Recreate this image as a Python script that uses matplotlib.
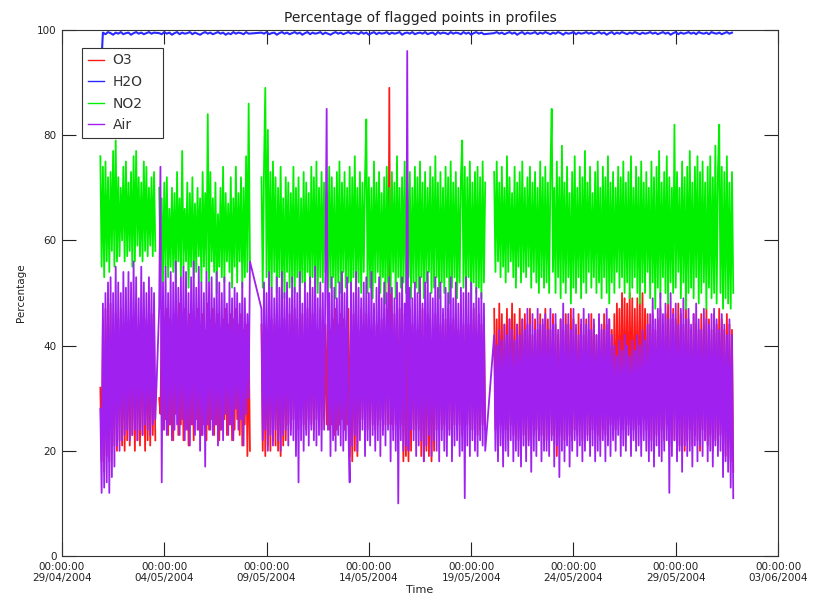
import numpy as np
import pandas as pd
import matplotlib
matplotlib.use('Agg')
import matplotlib.pyplot as plt
import matplotlib.dates as mdates

# profile blocks: start time, 1.5-hourly profiles per block (H2O summary every 3 h)
seg_start = ['2004-04-30 21:00', '2004-05-03 18:00', '2004-05-08 18:00', '2004-05-20 03:00']
seg_len = [44, 72, 176, 188]
h2o_len = [22, 36, 88, 94]

# percentage of flagged points per profile, blocks concatenated
o3 = [
    32, 18, 45, 16, 47, 19, 46, 18, 48, 22, 44, 21, 46, 20, 45, 22, 47, 21, 44, 20,
    46, 22, 43, 21, 47, 23, 45, 20, 48, 22, 44, 21, 46, 23, 47, 20, 45, 22, 43, 21,
    46, 23, 44, 22,
    30, 27, 46, 24, 44, 26, 47, 23, 45, 25, 43, 22, 46, 27, 44, 23, 48, 25, 45, 22,
    47, 24, 43, 21, 46, 25, 44, 22, 45, 26, 47, 24, 44, 23, 46, 25, 43, 22, 48, 24,
    45, 26, 47, 23, 44, 25, 46, 22, 43, 24, 45, 26, 47, 23, 44, 25, 46, 22, 45, 24,
    47, 26, 44, 23, 46, 21, 43, 25, 44, 19, 42, 20,
    44, 20, 46, 19, 43, 21, 47, 20, 45, 22, 44, 21, 46, 20, 43, 19, 47, 21, 45, 22,
    44, 25, 46, 24, 43, 26, 47, 25, 45, 24, 44, 26, 46, 25, 43, 24, 47, 26, 44, 25,
    46, 24, 45, 26, 43, 25, 47, 24, 45, 26, 44, 25, 46, 24, 43, 25, 45, 23, 47, 24,
    44, 25, 46, 26, 45, 24, 43, 25, 47, 19, 44, 18, 46, 20, 45, 19, 43, 24, 47, 26,
    44, 25, 46, 24, 45, 26, 43, 25, 47, 24, 44, 25, 46, 26, 45, 24, 43, 25, 47, 26,
    89, 25, 44, 24, 46, 25, 45, 24, 47, 25, 44, 18, 46, 19, 45, 18, 47, 20, 44, 24,
    46, 25, 43, 24, 45, 19, 47, 18, 44, 20, 46, 19, 45, 18, 43, 20, 46, 24, 45, 25,
    44, 24, 46, 25, 45, 23, 47, 24, 44, 26, 45, 25, 46, 24, 43, 25, 47, 23, 44, 24,
    46, 25, 44, 26, 45, 24, 47, 25, 43, 23, 46, 24, 44, 25, 45, 24,
    47, 24, 45, 22, 48, 25, 46, 23, 44, 24, 47, 22, 45, 25, 48, 23, 46, 24, 44, 22,
    47, 25, 45, 23, 46, 24, 44, 22, 47, 25, 42, 23, 45, 24, 43, 22, 46, 23, 44, 24,
    47, 22, 45, 25, 43, 23, 46, 24, 44, 19, 42, 23, 45, 24, 43, 22, 46, 25, 44, 23,
    47, 22, 45, 24, 43, 23, 46, 25, 44, 22, 42, 24, 45, 23, 43, 22, 46, 24, 44, 25,
    42, 23, 45, 22, 43, 24, 46, 23, 44, 22, 45, 25, 43, 23, 46, 24, 48, 26, 47, 25,
    50, 24, 49, 27, 48, 25, 50, 26, 49, 24, 47, 27, 49, 25, 48, 23, 50, 26, 47, 24,
    46, 26, 44, 22, 46, 24, 43, 23, 45, 21, 47, 24, 44, 22, 46, 25, 48, 21, 45, 23,
    47, 22, 45, 24, 48, 21, 46, 23, 44, 20, 47, 22, 45, 24, 43, 21, 46, 23, 44, 22,
    43, 20, 46, 24, 44, 22, 47, 21, 45, 23, 43, 20, 46, 22, 44, 21, 47, 23, 45, 20,
    43, 19, 46, 21, 44, 18, 43, 16,
]
no2 = [
    76, 55, 74, 53, 75, 56, 72, 54, 73, 58, 77, 55, 79, 56, 72, 57, 70, 60, 74, 56,
    75, 57, 71, 58, 73, 55, 76, 56, 77, 59, 72, 57, 71, 56, 75, 58, 74, 57, 70, 59,
    72, 57, 73, 58,
    70, 54, 68, 52, 71, 55, 72, 53, 66, 55, 70, 54, 69, 52, 73, 56, 68, 53, 77, 55,
    66, 56, 71, 51, 69, 55, 72, 53, 67, 54, 70, 57, 68, 52, 73, 55, 69, 54, 84, 52,
    73, 56, 68, 54, 71, 50, 65, 55, 70, 53, 74, 52, 69, 56, 67, 54, 72, 51, 68, 55,
    74, 52, 69, 56, 72, 51, 70, 53, 76, 54, 86, 55,
    72, 51, 74, 89, 53, 81, 50, 73, 51, 75, 54, 72, 50, 70, 53, 74, 52, 68, 49, 72,
    54, 71, 51, 69, 52, 74, 50, 70, 53, 72, 49, 68, 52, 73, 51, 71, 54, 69, 50, 74,
    53, 72, 51, 75, 50, 70, 53, 73, 52, 71, 54, 69, 50, 74, 51, 72, 53, 70, 49, 73,
    52, 75, 50, 71, 54, 73, 51, 70, 52, 74, 49, 72, 53, 76, 51, 70, 52, 73, 50, 71,
    54, 72, 83, 50, 72, 51, 70, 49, 75, 52, 71, 54, 73, 50, 69, 53, 72, 48, 74, 52,
    70, 50, 73, 54, 71, 49, 76, 53, 70, 51, 72, 52, 75, 50, 71, 53, 73, 49, 70, 52,
    74, 51, 72, 50, 75, 53, 71, 49, 73, 52, 70, 54, 74, 50, 72, 51, 76, 53, 71, 49,
    73, 52, 70, 50, 74, 53, 72, 48, 75, 51, 71, 53, 73, 49, 70, 52, 72, 79, 51, 74,
    50, 72, 53, 75, 48, 71, 52, 73, 50, 74, 51, 72, 49, 75, 52, 71,
    73, 54, 75, 56, 71, 53, 74, 55, 70, 52, 76, 54, 72, 56, 69, 53, 74, 51, 71, 55,
    73, 52, 75, 54, 70, 53, 72, 55, 74, 51, 71, 54, 73, 52, 70, 50, 75, 53, 72, 51,
    74, 52, 71, 50, 73, 85, 54, 70, 50, 75, 53, 72, 49, 78, 52, 71, 50, 74, 53, 69,
    48, 73, 51, 76, 50, 70, 53, 74, 49, 72, 52, 77, 50, 71, 54, 74, 51, 69, 53, 73,
    50, 75, 52, 70, 49, 74, 53, 72, 50, 76, 48, 71, 52, 73, 50, 70, 54, 74, 51, 72,
    53, 75, 50, 71, 52, 73, 49, 76, 51, 70, 53, 74, 50, 72, 48, 75, 52, 71, 50, 73,
    54, 70, 49, 75, 52, 72, 47, 74, 51, 77, 49, 71, 53, 73, 50, 76, 48, 72, 52, 70,
    50, 82, 51, 73, 54, 70, 49, 75, 52, 72, 47, 74, 50, 77, 51, 71, 49, 74, 53, 76,
    48, 73, 50, 75, 52, 71, 47, 74, 51, 76, 49, 72, 50, 78, 48, 73, 82, 50, 74, 47,
    73, 49, 76, 48, 71, 47, 73, 50,
]
air = [
    28, 12, 48, 13, 50, 14, 52, 12, 53, 15, 50, 17, 55, 21, 52, 20, 50, 22, 54, 23,
    51, 24, 54, 22, 52, 23, 56, 24, 53, 22, 49, 24, 55, 23, 52, 25, 50, 24, 53, 23,
    51, 25, 50, 26,
    47, 74, 14, 52, 24, 55, 23, 50, 25, 54, 22, 52, 24, 56, 25, 51, 23, 53, 26, 55,
    22, 54, 24, 50, 21, 53, 25, 56, 23, 51, 24, 55, 20, 52, 23, 50, 17, 54, 25, 52,
    24, 53, 23, 49, 25, 54, 21, 52, 24, 50, 22, 53, 27, 48, 23, 52, 25, 49, 22, 51,
    28, 50, 24, 48, 26, 52, 21, 49, 27, 46, 30, 56,
    47, 22, 52, 24, 50, 20, 54, 23, 51, 21, 49, 24, 53, 22, 51, 20, 54, 23, 50, 24,
    52, 21, 49, 23, 53, 22, 51, 19, 50, 14, 54, 22, 48, 20, 52, 23, 50, 21, 53, 24,
    51, 22, 55, 21, 49, 23, 52, 20, 50, 24, 53, 85, 24, 50, 19, 53, 22, 51, 20, 49,
    23, 52, 21, 54, 20, 50, 22, 53, 24, 14, 52, 21, 50, 23, 54, 20, 51, 22, 49, 24,
    52, 19, 53, 22, 50, 21, 54, 23, 48, 20, 51, 22, 53, 19, 49, 23, 52, 21, 50, 24,
    53, 18, 51, 22, 49, 20, 52, 10, 50, 22, 53, 20, 48, 21, 96, 20, 51, 24, 49, 22,
    52, 19, 50, 21, 53, 22, 48, 18, 52, 21, 54, 23, 50, 19, 49, 22, 53, 20, 51, 18,
    52, 22, 47, 20, 51, 19, 50, 23, 53, 18, 49, 21, 52, 22, 48, 19, 51, 20, 50, 11,
    53, 21, 50, 19, 52, 22, 48, 20, 51, 19, 49, 22, 50, 21, 48, 20,
    42, 20, 40, 18, 43, 21, 41, 17, 44, 20, 42, 19, 45, 22, 43, 18, 41, 20, 44, 19,
    42, 17, 45, 21, 43, 18, 47, 21, 44, 16, 46, 20, 43, 19, 47, 22, 44, 18, 45, 20,
    46, 20, 43, 19, 47, 22, 44, 17, 46, 21, 43, 15, 45, 20, 48, 18, 44, 21, 46, 17,
    43, 20, 47, 22, 44, 19, 42, 21, 45, 18, 47, 20, 44, 22, 46, 19, 43, 21, 45, 18,
    42, 20, 46, 19, 44, 22, 43, 18, 47, 21, 45, 19, 42, 22, 40, 20, 38, 23, 41, 19,
    39, 21, 42, 20, 40, 23, 38, 19, 41, 22, 39, 20, 42, 21, 40, 19, 43, 22, 41, 20,
    44, 18, 46, 20, 49, 17, 45, 21, 47, 19, 50, 18, 46, 20, 48, 22, 45, 12, 50, 19,
    46, 22, 48, 18, 44, 20, 47, 16, 49, 21, 45, 19, 47, 20, 44, 17, 46, 21, 48, 18,
    45, 21, 43, 19, 47, 22, 45, 18, 44, 20, 46, 17, 47, 21, 45, 19, 43, 20, 46, 15,
    44, 18, 42, 16, 45, 13, 42, 11,
]
h2o = [
    90.0, 99.5, 99.2, 99.6, 99.4, 99.1, 99.5, 99.3, 99.6, 99.2, 99.4, 99.5, 99.1, 99.4, 99.6, 99.3,
    99.5, 99.2, 99.4, 99.6, 99.3, 99.5,
    99.4, 99.2, 99.6, 99.3, 99.5, 99.1, 99.4, 99.6, 99.2, 99.5, 99.3, 99.4, 99.6, 99.2, 99.5, 99.3,
    99.1, 99.4, 99.6, 99.3, 99.5, 99.2, 99.4, 99.6, 99.3, 99.5, 99.1, 99.4, 99.2, 99.6, 99.3, 99.5,
    99.4, 99.2, 99.6, 99.3,
    99.5, 99.3, 99.6, 99.2, 99.4, 99.5, 99.1, 99.4, 99.6, 99.3,
    99.5, 99.2, 99.4, 99.6, 99.3, 99.5, 99.1, 99.4, 99.6, 99.2,
    99.5, 99.3, 99.4, 99.6, 99.2, 99.5, 99.3, 99.1, 99.4, 99.6,
    99.3, 99.5, 99.2, 99.4, 99.6, 99.3, 99.5, 99.4, 99.2, 99.6,
    99.3, 99.5, 99.1, 99.4, 99.6, 99.2, 99.5, 99.3, 99.4, 99.6,
    99.2, 99.5, 99.3, 99.4, 99.6, 99.1, 99.4, 99.5, 99.3, 99.6,
    99.2, 99.4, 99.5, 99.3, 99.6, 99.2, 99.4, 99.5, 99.1, 99.6,
    99.3, 99.5, 99.4, 99.2, 99.6, 99.3, 99.5, 99.4, 99.2, 99.6,
    99.3, 99.5, 99.1, 99.4, 99.6, 99.3, 99.5, 99.2,
    99.4, 99.6, 99.3, 99.5, 99.2, 99.4, 99.6, 99.3, 99.5, 99.1,
    99.4, 99.6, 99.2, 99.5, 99.3, 99.4, 99.6, 99.2, 99.5, 99.3,
    99.6, 99.4, 99.2, 99.5, 99.3, 99.6, 99.4, 99.1, 99.5, 99.3,
    99.4, 99.6, 99.2, 99.5, 99.3, 99.4, 99.6, 99.3, 99.5, 99.2,
    99.4, 99.6, 99.3, 99.5, 99.1, 99.4, 99.6, 99.2, 99.5, 99.3,
    99.6, 99.4, 99.2, 99.5, 99.3, 99.6, 99.4, 99.2, 99.5, 99.3,
    99.4, 99.6, 99.3, 99.5, 99.2, 99.4, 99.6, 99.3, 99.5, 99.1,
    99.4, 99.6, 99.2, 99.5, 99.3, 99.4, 99.6, 99.3, 99.5, 99.2,
    99.6, 99.4, 99.3, 99.5, 99.2, 99.6, 99.4, 99.3, 99.5, 99.2,
    99.4, 99.6, 99.3, 99.5,
]


def block_times(lengths, freq):
    return pd.DatetimeIndex(np.concatenate(
        [pd.date_range(s, periods=n, freq=freq).values for s, n in zip(seg_start, lengths)]))


times = block_times(seg_len, '90min')
h2o_times = block_times(h2o_len, '3h')
for name, vals in [('O3', o3), ('NO2', no2), ('Air', air)]:
    assert len(vals) == len(times), name
assert len(h2o) == len(h2o_times)

colors = {'O3': '#ff1a1a', 'H2O': '#2a2aff', 'NO2': '#00f000', 'Air': '#a020f0'}
edges = np.cumsum([0] + seg_len)

fig = plt.figure(figsize=(8.2, 6.07), dpi=100)
ax = fig.add_axes([0.0756, 0.084, 0.8732, 0.8666])

lw = 1.3
# O3 and NO2 are broken between blocks, H2O and Air are joined across them
for k in range(len(seg_len)):
    sl = slice(edges[k], edges[k + 1])
    ax.plot(times[sl], o3[sl], color=colors['O3'], lw=lw, label='O3' if k == 0 else None)
ax.plot(h2o_times, h2o, color=colors['H2O'], lw=1.5, label='H2O')
for k in range(len(seg_len)):
    sl = slice(edges[k], edges[k + 1])
    ax.plot(times[sl], no2[sl], color=colors['NO2'], lw=lw, label='NO2' if k == 0 else None)
ax.plot(times, air, color=colors['Air'], lw=lw, label='Air')

ax.set_xlim(pd.Timestamp('2004-04-29'), pd.Timestamp('2004-06-03'))
ax.set_ylim(0, 100)
ax.set_xticks(pd.date_range('2004-04-29', '2004-06-03', freq='5D'))
ax.xaxis.set_major_formatter(mdates.DateFormatter('%H:%M:%S\n%d/%m/%Y'))
ax.set_yticks(range(0, 101, 20))
ax.tick_params(direction='in', length=10, width=0.8, top=True, right=True,
               labelsize=7.5, colors='#222222', pad=4)
for sp in ax.spines.values():
    sp.set_linewidth(0.8)
    sp.set_color('#333333')

ax.set_title('Percentage of flagged points in profiles', fontsize=10, pad=6, color='#222222')
ax.set_xlabel('Time', fontsize=8, labelpad=1, color='#222222')
ax.set_ylabel('Percentage', fontsize=7.5, labelpad=8, color='#222222')

# legend box pinned to the upper left corner with a fixed width
leg = ax.legend(loc='upper left', bbox_to_anchor=(0.028, 0.80, 0.113, 0.166), mode='expand',
                borderaxespad=0, fontsize=10, handlelength=1.2, handletextpad=0.6,
                labelspacing=0.55, borderpad=0.4, fancybox=False, framealpha=1,
                edgecolor='#333333')
leg.get_frame().set_linewidth(0.8)
for line in leg.get_lines():
    line.set_linewidth(1.0)
for t in leg.get_texts():
    t.set_color('#333333')

fig.savefig('out.png', dpi=100)
